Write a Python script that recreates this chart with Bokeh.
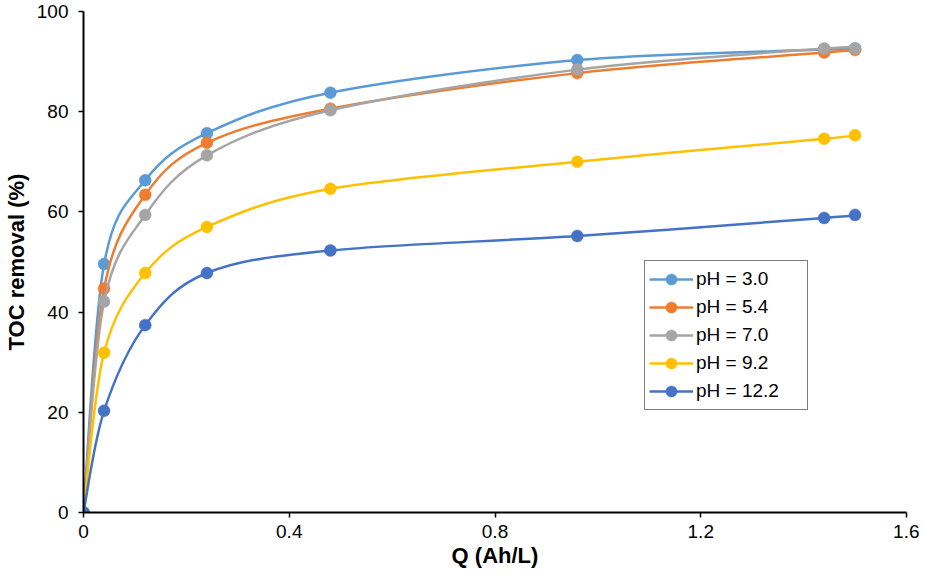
import numpy as np
from bokeh.plotting import figure
from bokeh.models import Range1d, FixedTicker, Legend, LegendItem
from bokeh.embed import file_html
from bokeh.resources import INLINE

# ---- data ----
q_ah_l = [0, 0.04, 0.12, 0.24, 0.48, 0.96, 1.44, 1.5]
series_labels = ["pH = 3.0", "pH = 5.4", "pH = 7.0", "pH = 9.2", "pH = 12.2"]
toc_ph_3_0 = [0, 49.6, 66.3, 75.7, 83.8, 90.3, 92.4, 92.6]
toc_ph_5_4 = [0, 44.7, 63.4, 73.8, 80.6, 87.7, 91.8, 92.3]
toc_ph_7_0 = [0, 42.1, 59.4, 71.3, 80.3, 88.4, 92.6, 92.6]
toc_ph_9_2 = [0, 31.9, 47.8, 57.0, 64.6, 70.0, 74.6, 75.3]
toc_ph_12_2 = [0, 20.3, 37.4, 47.8, 52.3, 55.2, 58.8, 59.4]
x_ticks = [0, 0.4, 0.8, 1.2, 1.6]
y_ticks = [0, 20, 40, 60, 80, 100]

series_values = [toc_ph_3_0, toc_ph_5_4, toc_ph_7_0, toc_ph_9_2, toc_ph_12_2]
colors = ["#5B9BD5", "#ED7D31", "#A5A5A5", "#FFC000", "#4472C4"]

FONT = "Liberation Sans"


def smooth_segments(xs, ys):
    """Catmull-Rom style cubic Bezier segments through the points (Excel smoothed line)."""
    x = np.asarray(xs, dtype=float)
    y = np.asarray(ys, dtype=float)
    n = len(x)
    x0, y0, x1, y1, cx0, cy0, cx1, cy1 = ([] for _ in range(8))
    for i in range(n - 1):
        im1 = max(i - 1, 0)
        ip2 = min(i + 2, n - 1)
        x0.append(x[i]); y0.append(y[i])
        x1.append(x[i + 1]); y1.append(y[i + 1])
        cx0.append(x[i] + (x[i + 1] - x[im1]) / 6.0)
        cy0.append(y[i] + (y[i + 1] - y[im1]) / 6.0)
        cx1.append(x[i + 1] - (x[ip2] - x[i]) / 6.0)
        cy1.append(y[i + 1] - (y[ip2] - y[i]) / 6.0)
    return dict(x0=x0, y0=y0, x1=x1, y1=y1, cx0=cx0, cy0=cy0, cx1=cx1, cy1=cy1)


p = figure(
    width=919, height=572,
    x_range=Range1d(0, 1.6), y_range=Range1d(0, 100),
    output_backend="svg", toolbar_location=None,
    min_border_left=77, min_border_right=13, min_border_top=11, min_border_bottom=60,
)
p.outline_line_color = None
p.xgrid.visible = False
p.ygrid.visible = False
p.background_fill_color = "white"
p.border_fill_color = "white"

items = []
for label, vals, col in zip(series_labels, series_values, colors):
    seg = smooth_segments(q_ah_l, vals)
    r_line = p.bezier(source=seg, x0="x0", y0="y0", x1="x1", y1="y1",
                      cx0="cx0", cy0="cy0", cx1="cx1", cy1="cy1",
                      line_color=col, line_width=2.5)
    r_pts = p.scatter(q_ah_l, vals, size=12, marker="circle",
                      fill_color=col, line_color=col, line_width=0.5)
    items.append(LegendItem(label=label, renderers=[r_line, r_pts]))

legend = Legend(items=items, location=(561, 102))
legend.label_text_font = FONT
legend.label_text_font_size = "19px"
legend.label_text_color = "black"
legend.glyph_width = 44
legend.glyph_height = 28
legend.label_height = 28
legend.label_width = 107
legend.label_standoff = 3
legend.spacing = 0
legend.padding = 4
legend.margin = 0
legend.border_line_color = "black"
legend.border_line_width = 1.5
legend.background_fill_color = "white"
legend.background_fill_alpha = 1.0
p.add_layout(legend, "center")

for ax in (p.xaxis[0], p.yaxis[0]):
    ax.axis_line_color = "black"
    ax.axis_line_width = 2
    ax.major_tick_line_color = "black"
    ax.major_tick_line_width = 1.5
    ax.major_tick_in = 0
    ax.major_tick_out = 5
    ax.minor_tick_line_color = None
    ax.major_label_text_font = FONT
    ax.major_label_text_font_size = "19px"
    ax.major_label_text_color = "black"
    ax.axis_label_text_font = FONT
    ax.axis_label_text_font_size = "22px"
    ax.axis_label_text_font_style = "bold"
    ax.axis_label_text_color = "black"

p.xaxis[0].ticker = FixedTicker(ticks=x_ticks)
p.yaxis[0].ticker = FixedTicker(ticks=y_ticks)
p.xaxis[0].major_label_overrides = {0: "0", 0.4: "0.4", 0.8: "0.8", 1.2: "1.2", 1.6: "1.6"}
p.xaxis[0].axis_label = "Q (Ah/L)"
p.yaxis[0].axis_label = "TOC removal (%)"
p.xaxis[0].major_label_standoff = 7
p.yaxis[0].major_label_standoff = 10
p.xaxis[0].axis_label_standoff = 2
p.yaxis[0].axis_label_standoff = 5

open("out.html", "w").write(file_html(p, INLINE))
